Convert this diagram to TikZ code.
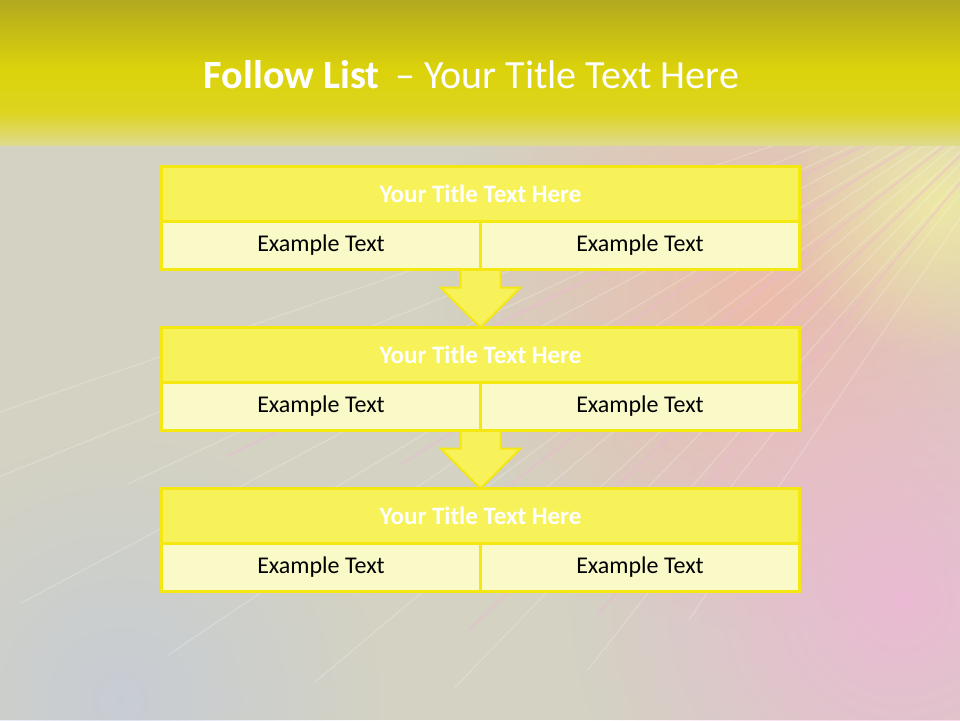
\documentclass[tikz,border=0pt]{standalone}
\usepackage{fontspec}
\setmainfont{Carlito}
\usetikzlibrary{calc, fadings}

\definecolor{bandtop}{HTML}{B2A91F}
\definecolor{bandmid}{HTML}{DCD30B}
\definecolor{bandlow}{HTML}{DFDA8C}
\definecolor{slidebg}{HTML}{D3D2C3}
\definecolor{rimyellow}{HTML}{F5E810}
\definecolor{headfill}{HTML}{F7F15A}
\definecolor{cellfill}{HTML}{FAF9C8}
\definecolor{glowpink}{HTML}{F0B4D6}
\definecolor{glowpeach}{HTML}{F2B7A6}
\definecolor{glowblue}{HTML}{BFC8E2}
\definecolor{glowlime}{HTML}{F2F0A0}

\tikzfading[name=soft glow, inner color=transparent!20, outer color=transparent!100]

\begin{document}
\begin{tikzpicture}[x=1pt, y=-1pt,
    head/.style={draw=rimyellow, fill=headfill, line width=2.5pt, outer sep=0pt,
        minimum width=638pt, minimum height=55pt, inner sep=0pt,
        text=white, font=\bfseries\fontsize{25}{30}\selectfont},
    cell/.style={draw=rimyellow, fill=cellfill, line width=2.5pt, outer sep=0pt,
        minimum width=319pt, minimum height=48pt, inner sep=0pt,
        font=\fontsize{24}{28}\selectfont},
    blockarrow/.style={draw=rimyellow, fill=headfill, line width=2pt, line join=miter}]
\useasboundingbox (0,0) rectangle (960,720);

% background
\fill[slidebg] (0,0) rectangle (960,720);
\fill[glowpeach, path fading=soft glow] (760,300) circle (330);
\fill[glowpink, path fading=soft glow] (900,600) circle (330);
\fill[glowblue, path fading=soft glow, opacity=0.7] (120,700) circle (260);
\fill[glowlime, path fading=soft glow] (940,200) circle (160);
\foreach \ang/\len in {124/700, 128/800, 131/650, 134/900, 137/750, 140/1000,
        143/850, 146/1100, 149/950, 152/1200, 155/1050, 158/1250, 161/1150} {
    \draw[white, opacity=0.22, line width=1.2pt] (1080,40) -- ++(\ang:\len);
}
\foreach \ang/\len in {130/750, 136/850, 142/900, 148/800, 154/950} {
    \draw[glowpink, opacity=0.4, line width=2pt] (1080,40) -- ++(\ang:\len);
}

% title band
\shade[top color=bandtop, bottom color=bandmid] (0,0) rectangle (960,70);
\shade[top color=bandmid, bottom color=bandmid!85!bandlow] (0,70) rectangle (960,112);
\shade[top color=bandmid!85!bandlow, bottom color=bandlow] (0,112) rectangle (960,145);
\node[text=white, font=\fontsize{40}{44}\selectfont] (title) at (471.5,75)
    {\textbf{Follow List}\, -- Your Title Text Here};

% boxes
\foreach \i/\y in {1/166.5, 2/327.5, 3/488.5} {
    \node[head, anchor=north] (h\i) at (480.5,\y) {Your Title Text Here};
    \node[cell, anchor=north east] (l\i) at (h\i.south) {Example Text};
    \node[cell, anchor=north west] (r\i) at (h\i.south) {Example Text};
}

% arrows
\foreach \a/\b in {1/2, 2/3} {
    \draw[blockarrow] ($(l\a.south east)+(-20,1.5)$) -- ($(l\a.south east)+(-20,18)$)
        -- ($(l\a.south east)+(-40,18)$) -- (h\b.north)
        -- ($(l\a.south east)+(40,18)$) -- ($(l\a.south east)+(20,18)$)
        -- ($(l\a.south east)+(20,1.5)$);
}
\end{tikzpicture}
\end{document}
